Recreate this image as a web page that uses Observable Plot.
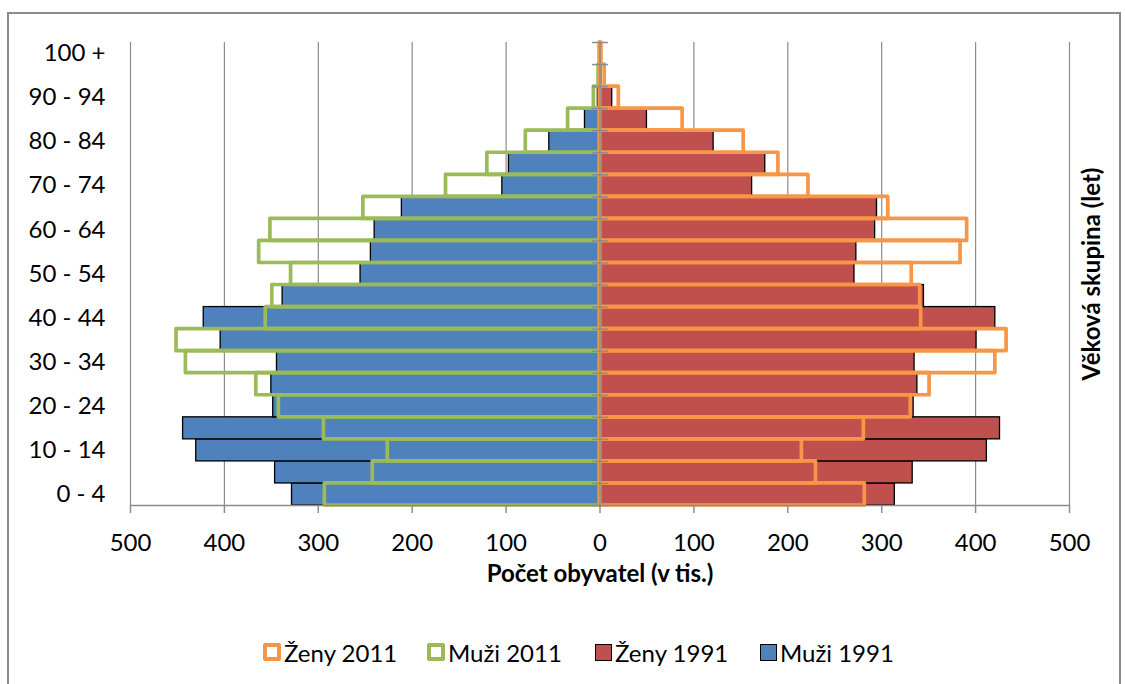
<!DOCTYPE html>
<html>
<head>
<meta charset="utf-8">
<script src="https://cdn.jsdelivr.net/npm/d3@7"></script>
<script src="https://cdn.jsdelivr.net/npm/@observablehq/plot@0.6"></script>
<style>
  html, body { margin: 0; padding: 0; background: #fff; }
  #wrap { position: relative; width: 1125px; height: 684px; overflow: hidden; background: #fff; font-family: Lato, "Open Sans", sans-serif; }
  #frame { position: absolute; left: 7px; top: 12px; width: 1114px; height: 700px; border: 2px solid #8c8c8c; box-sizing: border-box; pointer-events: none; }
  .item { position: absolute; top: 637px; height: 30px; display: flex; align-items: center; font-size: 24px; color: #000; white-space: nowrap; }
  .sw { box-sizing: border-box; width: 18px; height: 18px; margin-right: 3px; }
</style>
</head>
<body>
<div id="wrap">
  <div id="chart"></div>
  <div id="legend"></div>
  <div id="frame"></div>
</div>
<script>
// Age groups, bottom to top
const categories = ["0 - 4","5 - 9","10 - 14","15 - 19","20 - 24","25 - 29","30 - 34","35 - 39","40 - 44","45 - 49","50 - 54","55 - 59","60 - 64","65 - 69","70 - 74","75 - 79","80 - 84","85 - 89","90 - 94","95 - 99","100 +"];
// Population in thousands
const men1991   = [328, 346, 430, 444, 348, 350, 344, 404, 422, 338, 255, 244, 240, 211, 104, 97, 54, 16, 2.3, 0.5, 0.1];
const women1991 = [314, 333, 412, 426, 334, 338, 335, 401, 421, 345, 271, 273, 293, 295, 162, 176, 121, 50, 13, 1.5, 0.2];
const men2011   = [293, 242, 226, 294, 342, 366, 441, 451, 356, 349, 329, 363, 351, 252, 164, 120, 79, 34, 6.5, 1.5, 0.3];
const women2011 = [282, 230, 215, 281, 331, 351, 421, 433, 342, 341, 332, 384, 391, 307, 222, 190, 153, 88, 20, 5, 1.5];
const xTicks = [-500, -400, -300, -200, -100, 0, 100, 200, 300, 400, 500];
const xTitle = "Počet obyvatel (v tis.)";
const yTitle = "Věková skupina (let)";
const legendItems = [
  {label: "Ženy 2011", kind: "outline", color: "#F79646"},
  {label: "Muži 2011", kind: "outline", color: "#9BBB59"},
  {label: "Ženy 1991", kind: "fill", color: "#C0504D"},
  {label: "Muži 1991", kind: "fill", color: "#4F81BD"}
];
const legendLeft = [263, 427, 595, 760];

const rows = categories.map((c, i) => ({
  i, cat: c,
  m91: men1991[i], w91: women1991[i], m11: men2011[i], w11: women2011[i]
}));
const labelPos = categories.map((c, i) => i).filter(i => i % 2 === 0).map(i => i + 0.5);
const boundaries = d3.range(categories.length + 1);

const chart = Plot.plot({
  width: 1125,
  height: 620,
  marginLeft: 130,
  marginRight: 56,
  marginTop: 42,
  marginBottom: 115,
  x: {domain: [-500, 500]},
  y: {domain: [0, categories.length]},
  style: {fontFamily: "Lato, 'Open Sans', sans-serif", fontSize: "24px", color: "#000", background: "#fff", overflow: "visible"},
  marks: [
    Plot.gridX(xTicks, {stroke: "#8c8c8c", strokeOpacity: 1, strokeWidth: 1.2}),
    Plot.rect(rows, {x1: 0, x2: d => -d.m91, y1: "i", y2: d => d.i + 1, fill: "#4F81BD", stroke: "#000", strokeWidth: 1.3}),
    Plot.rect(rows, {x1: 0, x2: "w91", y1: "i", y2: d => d.i + 1, fill: "#C0504D", stroke: "#000", strokeWidth: 1.3}),
    Plot.rect(rows, {x1: 0, x2: d => -d.m11, y1: "i", y2: d => d.i + 1, fill: "none", stroke: "#9BBB59", strokeWidth: 3.7, strokeLinejoin: "round"}),
    Plot.rect(rows, {x1: 0, x2: "w11", y1: "i", y2: d => d.i + 1, fill: "none", stroke: "#F79646", strokeWidth: 3.7, strokeLinejoin: "round"}),
    Plot.ruleX([0], {stroke: "#8c8c8c", strokeWidth: 1.5}),
    Plot.ruleY(boundaries, {x1: -8, x2: 9, stroke: "#8c8c8c", strokeWidth: 1.5}),
    Plot.ruleY([0], {stroke: "#8c8c8c", strokeWidth: 1.5}),
    Plot.axisX({ticks: xTicks, tickFormat: d => Math.abs(d), tickSize: 8, tickPadding: 20, stroke: "#8c8c8c", strokeWidth: 1.5, label: null}),
    Plot.axisY({ticks: labelPos, tickFormat: d => categories[Math.floor(d)], tickSize: 0, tickPadding: 25, label: null}),
    Plot.text([xTitle], {frameAnchor: "bottom", dy: 76, fontWeight: "bold", fontSize: 24}),
    Plot.text([yTitle], {frameAnchor: "right", textAnchor: "middle", dx: 23, rotate: -90, fontWeight: "bold", fontSize: 24})
  ]
});
document.getElementById("chart").appendChild(chart);

const legend = document.getElementById("legend");
legendItems.forEach((it, k) => {
  const item = document.createElement("div");
  item.className = "item";
  item.style.left = legendLeft[k] + "px";
  const sw = document.createElement("span");
  sw.className = "sw";
  if (it.kind === "outline") {
    sw.style.border = "4px solid " + it.color;
    sw.style.borderRadius = "2px";
    sw.style.background = "#fff";
  } else {
    sw.style.border = "1.5px solid #000";
    sw.style.background = it.color;
    sw.style.width = "17px";
    sw.style.height = "17px";
  }
  const tx = document.createElement("span");
  tx.textContent = it.label;
  item.appendChild(sw);
  item.appendChild(tx);
  legend.appendChild(item);
});
</script>
</body>
</html>
